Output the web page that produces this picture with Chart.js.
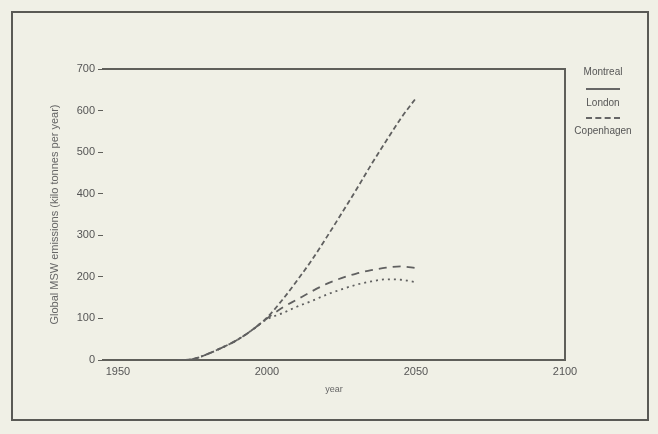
<!DOCTYPE html>
<html>
<head>
<meta charset="utf-8">
<script src="https://cdn.jsdelivr.net/npm/chart.js@4.4.0/dist/chart.umd.min.js"></script>
<style>
  html, body { margin: 0; padding: 0; background: #f0f0e6; }
  #wrap { position: relative; width: 658px; height: 434px; }
  #frame { position: absolute; left: 11px; top: 11px; width: 634px; height: 406px; border: 2px solid #5a5a55; }
  #legend div { position: absolute; font-family: "Liberation Sans", Arial, sans-serif; font-size: 10px; color: #555; text-align: center; }
  #legend .lbl { left: 572px; width: 62px; height: 12px; line-height: 12px; }
  #legend .ln { left: 586px; width: 34px; height: 0; border-top: 2px solid #666; }
  #legend .ln.dash { border-top: 2px dashed #666; }
</style>
</head>
<body>
<div id="wrap">
  <div id="frame"></div>
  <canvas id="chart" width="658" height="434"></canvas>
  <div id="legend">
    <div class="lbl" style="top:66px">Montreal</div>
    <div class="ln" style="top:88px"></div>
    <div class="lbl" style="top:97px">London</div>
    <div class="ln dash" style="top:117px"></div>
    <div class="lbl" style="top:125px">Copenhagen</div>
  </div>
</div>
<script>
// data
var years = [1970, 1975, 1980, 1985, 1990, 1995, 2000, 2005, 2010, 2015, 2020, 2025, 2030, 2035, 2040, 2045, 2050];
var montreal = [0, 2, 14, 30, 48, 72, 102, 143, 190, 240, 295, 352, 410, 470, 527, 582, 630];
var london = [0, 2, 14, 30, 48, 72, 100, 125, 145, 165, 183, 197, 208, 216, 222, 225, 221];
var copenhagen = [0, 2, 14, 30, 48, 72, 98, 112, 128, 142, 157, 170, 181, 189, 194, 193, 187];
var xTicks = [1950, 2000, 2050, 2100];

function pts(vals) {
	return years.map(function(y, i) { return { x: y, y: vals[i] }; });
}

var lineCol = "#606060";
var axisCol = "#5f5f5a";
var font = { family: "'Liberation Sans', Arial, sans-serif", size: 11 };

var ctx = document.getElementById("chart");

var data = {
	datasets: [
		{ label: "Montreal", data: pts(montreal), borderColor: lineCol, borderWidth: 1.8, borderDash: [5, 3], pointRadius: 0, fill: false, cubicInterpolationMode: "monotone" },
		{ label: "London", data: pts(london), borderColor: lineCol, borderWidth: 1.8, borderDash: [8, 6], pointRadius: 0, fill: false, cubicInterpolationMode: "monotone" },
		{ label: "Copenhagen", data: pts(copenhagen), borderColor: lineCol, borderWidth: 1.8, borderDash: [2, 4], pointRadius: 0, fill: false, cubicInterpolationMode: "monotone" }
	]
};

var options = {
	responsive: false,
	animation: false,
	layout: { padding: { left: 48, right: 93, top: 69, bottom: 39 } },
	plugins: { legend: { display: false }, tooltip: { enabled: false } },
	scales: {
		x: {
			type: "linear", position: "bottom", min: 1945, max: 2100,
			afterBuildTicks: function(s) { s.ticks = xTicks.map(function(v) { return { value: v }; }); },
			afterFit: function(s) { s.height = 35; },
			grid: { display: false, drawTicks: false },
			border: { display: true, color: axisCol, width: 2 },
			ticks: { color: "#555", font: font, padding: 5, maxRotation: 0, callback: function(v) { return String(v); } },
			title: { display: true, text: "year", color: "#666", font: { family: font.family, size: 9 }, padding: 0 }
		},
		x2: {
			type: "linear", position: "top", min: 1945, max: 2100,
			afterFit: function(s) { s.height = 0; },
			grid: { display: false, drawTicks: false },
			border: { display: true, color: axisCol, width: 2 },
			ticks: { display: false }
		},
		y: {
			min: 0, max: 700,
			afterFit: function(s) { s.width = 55; },
			grid: { drawOnChartArea: false, tickLength: 5, color: axisCol, tickColor: axisCol },
			border: { display: false },
			ticks: { stepSize: 100, color: "#555", font: font, padding: 3 },
			title: { display: true, text: "Global MSW emissions (kilo tonnes per year)", color: "#666", font: { family: font.family, size: 11 }, padding: 0 }
		},
		y2: {
			position: "right", min: 0, max: 700,
			afterFit: function(s) { s.width = 0; },
			grid: { display: false, drawTicks: false },
			border: { display: true, color: axisCol, width: 2 },
			ticks: { display: false }
		}
	}
};

var chart = new Chart(ctx, { type: "line", data: data, options: options });
</script>
</body>
</html>
